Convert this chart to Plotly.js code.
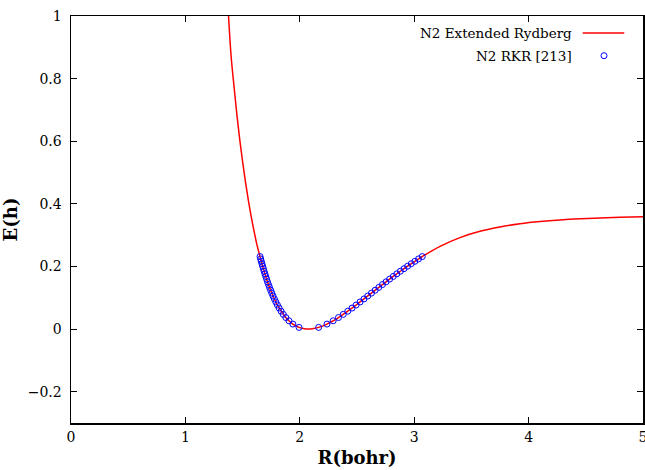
<!DOCTYPE html>
<html>
<head>
<meta charset="utf-8">
<script src="https://cdn.plot.ly/plotly-3.0.1.min.js"></script>
<style>
  html, body { margin: 0; padding: 0; background: #fff; }
  #chart { width: 645px; height: 470px; }
</style>
</head>
<body>
<div id="chart"></div>
<script>
// Extended Rydberg curve
const curveR = [1.377, 1.40, 1.425, 1.45, 1.475, 1.50, 1.525, 1.55, 1.575, 1.60, 1.625,
  1.6525, 1.6634, 1.6752, 1.6881, 1.7023, 1.7179, 1.7354, 1.7552, 1.7778, 1.8043, 1.8364,
  1.8779, 1.9048, 1.9395, 1.9934, 2.04, 2.074, 2.11, 2.1646, 2.2376, 2.2916, 2.3380, 2.4193,
  2.4923, 2.5608, 2.6266, 2.6907, 2.7539, 2.8166, 2.8793, 2.9424, 3.0060, 3.0704,
  3.226, 3.40, 3.575, 3.75, 3.925, 4.10, 4.274, 4.449, 4.624, 4.799, 5.0];
const curveE = [1.000, 0.870, 0.775, 0.685, 0.605, 0.535, 0.470, 0.412, 0.360, 0.313, 0.270,
  0.2316, 0.2165, 0.2009, 0.1847, 0.1681, 0.1509, 0.1332, 0.1150, 0.0962, 0.0769, 0.0571,
  0.0368, 0.0265, 0.0160, 0.0054, 0.0009, 0.0, 0.0009, 0.0054, 0.0160, 0.0265, 0.0368, 0.0571,
  0.0769, 0.0962, 0.1150, 0.1332, 0.1509, 0.1681, 0.1847, 0.2009, 0.2165, 0.2316,
  0.2644, 0.2922, 0.3123, 0.3263, 0.3363, 0.3433, 0.3483, 0.3520, 0.3546, 0.3568, 0.3590];

// RKR turning points
const rkrR = [1.9934, 1.9395, 1.9048, 1.8779, 1.8556, 1.8364, 1.8195, 1.8043, 1.7904, 1.7778,
  1.7660, 1.7552, 1.7450, 1.7354, 1.7264, 1.7179, 1.7099, 1.7023, 1.6950, 1.6881,
  1.6815, 1.6752, 1.6692, 1.6634, 1.6578, 1.6525,
  2.1646, 2.2376, 2.2916, 2.3380, 2.3801, 2.4193, 2.4566, 2.4923, 2.5270, 2.5608,
  2.5940, 2.6266, 2.6588, 2.6907, 2.7224, 2.7539, 2.7852, 2.8166, 2.8479, 2.8793,
  2.9108, 2.9424, 2.9741, 3.0060, 3.0381, 3.0704];
const rkrE = [0.00536, 0.01597, 0.02646, 0.03681, 0.04704, 0.05713, 0.06710, 0.07693, 0.08663, 0.09620,
  0.10564, 0.11495, 0.12413, 0.13318, 0.14210, 0.15089, 0.15955, 0.16808, 0.17647, 0.18474,
  0.19287, 0.20088, 0.20876, 0.21650, 0.22411, 0.23160,
  0.00536, 0.01597, 0.02646, 0.03681, 0.04704, 0.05713, 0.06710, 0.07693, 0.08663, 0.09620,
  0.10564, 0.11495, 0.12413, 0.13318, 0.14210, 0.15089, 0.15955, 0.16808, 0.17647, 0.18474,
  0.19287, 0.20088, 0.20876, 0.21650, 0.22411, 0.23160];

const xTicks = [0, 1, 2, 3, 4, 5];
const yTicks = [-0.2, 0, 0.2, 0.4, 0.6, 0.8, 1];
const seriesNames = ['N2 Extended Rydberg', 'N2 RKR [213]'];

const FONT = 'DejaVu Serif, serif';

const traces = [
  {
    x: curveR, y: curveE, type: 'scatter', mode: 'lines', name: seriesNames[0],
    line: { color: '#ff0000', width: 1.5, shape: 'spline', smoothing: 1 },
    showlegend: false
  },
  {
    x: rkrR, y: rkrE, type: 'scatter', mode: 'markers', name: seriesNames[1],
    marker: { symbol: 'circle-open', color: '#0000ff', size: 6, line: { width: 1, color: '#0000ff' } },
    showlegend: false
  }
];

const axisCommon = {
  showline: true, linecolor: '#000', linewidth: 1.5, mirror: 'ticks',
  ticks: 'inside', ticklen: 6, tickwidth: 1, tickcolor: '#000',
  showgrid: false, zeroline: false, ticklabeloverflow: 'allow',
  tickfont: { family: FONT, size: 14, color: '#000' }
};

const layout = {
  width: 645, height: 470,
  margin: { l: 71, r: 2, t: 16, b: 47 },
  paper_bgcolor: '#fff', plot_bgcolor: '#fff',
  showlegend: false,
  xaxis: Object.assign({}, axisCommon, {
    range: [0, 5], tickvals: xTicks, ticktext: xTicks.map(String),
    ticklabelstandoff: 1,
    title: { text: '<b>R(bohr)</b>', font: { family: FONT, size: 18, color: '#000' }, standoff: 7 }
  }),
  yaxis: Object.assign({}, axisCommon, {
    range: [-0.3, 1], tickvals: yTicks,
    ticktext: yTicks.map(v => v < 0 ? '\u2212' + String(-v) : String(v)),
    ticklabelstandoff: 5,
    title: { text: '<b>E(h)</b>', font: { family: FONT, size: 18, color: '#000' }, standoff: 9 }
  }),
  annotations: [
    { xref: 'paper', yref: 'paper', x: 0.8794, y: 0.9582, xanchor: 'right', yanchor: 'middle',
      text: seriesNames[0], showarrow: false, font: { family: FONT, size: 13.5, color: '#000' } },
    { xref: 'paper', yref: 'paper', x: 0.8794, y: 0.9025, xanchor: 'right', yanchor: 'middle',
      text: seriesNames[1], showarrow: false, font: { family: FONT, size: 13.5, color: '#000' } }
  ],
  shapes: [
    { type: 'line', xref: 'paper', yref: 'paper', x0: 0.8946, x1: 0.9673, y0: 0.9582, y1: 0.9582,
      line: { color: '#ff0000', width: 1.5 } },
    { type: 'circle', xref: 'paper', yref: 'paper', xsizemode: 'pixel', ysizemode: 'pixel',
      xanchor: 0.9318, yanchor: 0.9025, x0: -3, x1: 3, y0: -3, y1: 3,
      line: { color: '#0000ff', width: 1 } }
  ]
};

Plotly.newPlot('chart', traces, layout, { displayModeBar: false, staticPlot: true });
</script>
</body>
</html>
